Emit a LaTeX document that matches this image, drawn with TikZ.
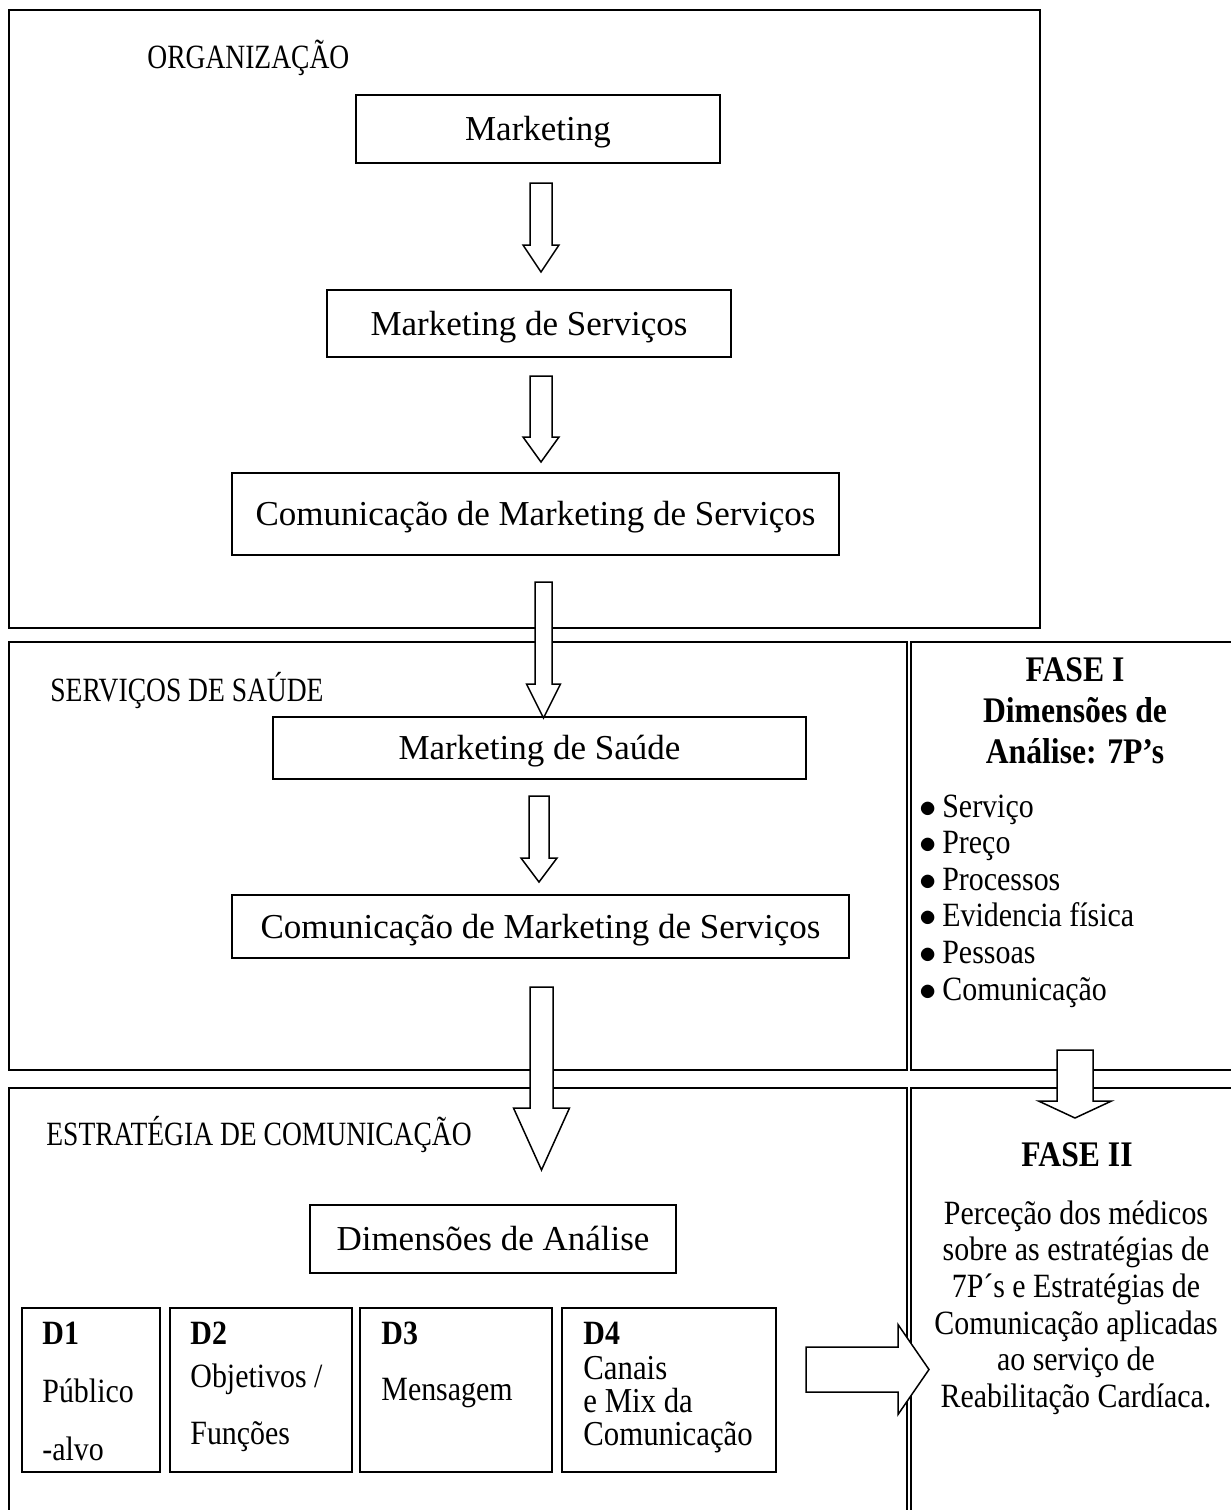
\documentclass[tikz,border=0pt]{standalone}
\usepackage{fontspec}
\setmainfont{Liberation Serif}
\newfontfamily\capsfam[FakeStretch=0.81]{Liberation Serif}
\newfontfamily\condfam[FakeStretch=0.88]{Liberation Serif}
\usetikzlibrary{positioning}
\newcommand{\boxfont}{\fontsize{17.5}{21}\selectfont}
\newcommand{\capfont}{\capsfam\fontsize{17}{20}\selectfont}
\newcommand{\colfont}{\condfam\fontsize{17}{18.3}\selectfont}
\newcommand{\dfont}{\condfam\fontsize{17}{20}\selectfont}
% block arrows: x, top, head base, tip, half shaft, half head
\newcommand{\blkdown}[6]{\draw[blk] (#1-#5,#2) -- (#1+#5,#2) -- (#1+#5,#3) -- (#1+#6,#3) -- (#1,#4) -- (#1-#6,#3) -- (#1-#5,#3) -- cycle;}
% y, left, head base, tip, half shaft, half head
\newcommand{\blkright}[6]{\draw[blk] (#2,#1-#5) -- (#3,#1-#5) -- (#3,#1-#6) -- (#4,#1) -- (#3,#1+#6) -- (#3,#1+#5) -- (#2,#1+#5) -- cycle;}

\begin{document}
\begin{tikzpicture}[x=0.5pt, y=-0.5pt,
    frame/.style={line width=1pt},
    box/.style={draw, line width=0.8pt, font=\boxfont, inner sep=0pt, text height=11.6pt, text depth=0pt},
    blk/.style={draw, line width=0.75pt, fill=white, line join=miter},
    caps/.style={anchor=west, inner sep=0pt, font=\capfont, text height=11.2pt, text depth=0pt},
    dtxt/.style={anchor=west, inner sep=0pt, font=\dfont, text height=11.2pt, text depth=0pt}]
    \useasboundingbox (0,0) rectangle (1231,1510);
    \clip (0,0) rectangle (1231,1510);
    % table frames
    \draw[frame] (9,10) rectangle (1040,628);
    \draw[frame] (9,642) rectangle (907,1070);
    \draw[frame] (911,642) rectangle (1250,1070);
    \draw[frame] (9,1088) rectangle (907,1530);
    \draw[frame] (911,1088) rectangle (1250,1530);

    % organizacao
    \node[caps] (org) at (147,57) {ORGANIZAÇÃO};
    \node[box, minimum width=182pt, minimum height=34pt] (mkt) at (538,129) {Marketing};
    \node[box, minimum width=202pt, minimum height=33.5pt] (mks) at (529,323.5) {Marketing de Serviços};
    \node[box, minimum width=303.5pt, minimum height=41pt] (cms1) at (535.5,514) {Comunicação de Marketing de Serviços};

    % servicos de saude
    \node[caps] (sds) at (50,690) {SERVIÇOS DE SAÚDE};
    \node[box, minimum width=266.5pt, minimum height=31pt] (msa) at (539.5,748) {Marketing de Saúde};
    \node[box, minimum width=308.5pt, minimum height=31.5pt] (cms2) at (540.5,926.5) {Comunicação de Marketing de Serviços};

    % estrategia
    \node[caps] (est) at (46,1134) {ESTRATÉGIA DE COMUNICAÇÃO};
    \node[box, minimum width=183pt, minimum height=34pt] (dim) at (493,1239) {Dimensões de Análise};
    \foreach \n/\cx/\w/\tx in {1/91/69/42, 2/261/91/190, 3/456/96/381, 4/669/107/583} {
      \node[draw, line width=0.8pt, minimum width=\w pt, minimum height=82pt, inner sep=0pt] (d\n) at (\cx,1390) {};
      \node[dtxt] (d\n l) at (\tx,1333) {\textbf{D\n}};
    }
    \node[dtxt] (d1a) at (42,1391) {Público};
    \node[dtxt] (d1b) at (42,1449) {-alvo};
    \node[dtxt] (d2a) at (190,1376) {Objetivos /};
    \node[dtxt] (d2b) at (190,1433) {Funções};
    \node[dtxt] (d3a) at (381,1389) {Mensagem};
    \node[anchor=west, align=left, inner sep=0pt, font=\condfam\fontsize{17.5}{16.5}\selectfont] (d4a) at (583,1405)
      {Canais\\e Mix da\\Comunicação};

    % fases
    \node[font=\condfam\bfseries\fontsize{18}{20.5}\selectfont, align=center] (fase1) at (1075,711) {FASE I\\Dimensões de\\Análise: 7P’s};
    \node[font=\colfont, align=left, anchor=west, inner sep=0pt] (ps) at (919,901)
      {$\bullet$\,Serviço\\$\bullet$\,Preço\\$\bullet$\,Processos\\$\bullet$\,Evidencia física\\$\bullet$\,Pessoas\\$\bullet$\,Comunicação};
    \node[font=\condfam\bfseries\fontsize{18}{20}\selectfont] (fase2) at (1077,1155) {FASE II};
    \node[font=\colfont, align=center] (fase2t) at (1076,1307.5)
      {Perceção dos médicos\\sobre as estratégias de\\7P´s e Estratégias de\\Comunicação aplicadas\\ao serviço de\\Reabilitação Cardíaca.};

    % arrows
    \blkdown{541}{183}{245}{272}{11}{18}
    \blkdown{541}{376}{437}{462}{11}{18}
    \blkdown{543.5}{582}{684}{718}{8.5}{17}
    \blkdown{539}{796}{858}{882}{10}{18}
    \blkdown{541.5}{987}{1108}{1170}{11.5}{28}
    \blkdown{1075}{1050}{1101}{1118}{18}{36.5}
    \blkright{1369.5}{806}{898}{929}{22.5}{45}
  \end{tikzpicture}
\end{document}
